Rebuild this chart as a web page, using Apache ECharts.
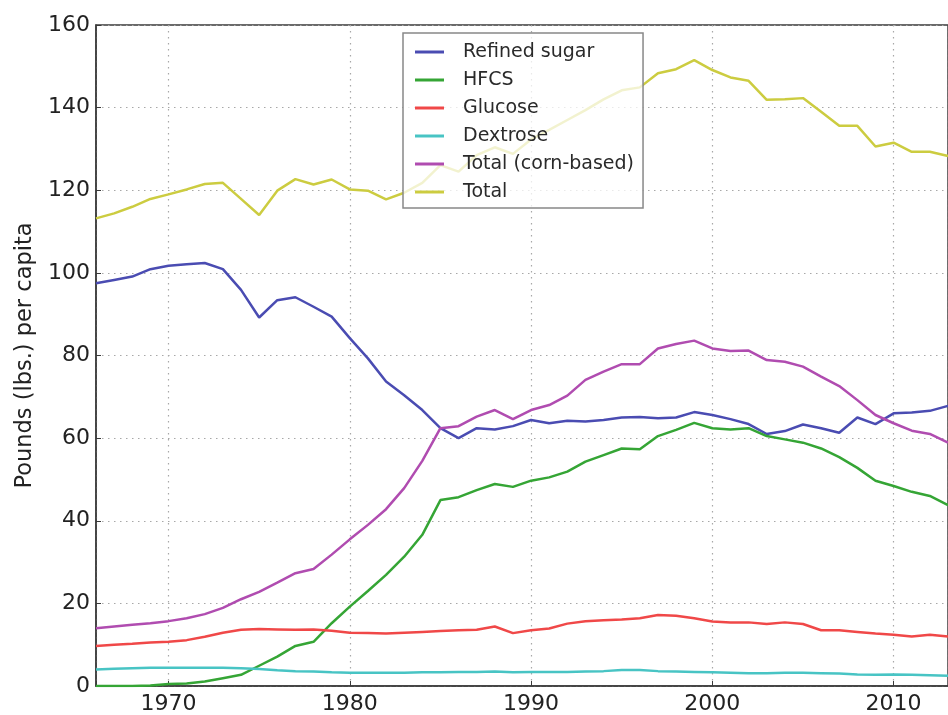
<!DOCTYPE html>
<html>
<head>
<meta charset="utf-8">
<script src="https://cdn.jsdelivr.net/npm/echarts@6/dist/echarts.min.js"></script>
<style>
html,body{margin:0;padding:0;background:#fff;overflow:hidden;}
#chart{width:951px;height:715px;}
</style>
</head>
<body>
<div id="chart"></div>
<script>
const years = [];
for (let y = 1966; y <= 2013; y++) years.push(y);

const refinedSugar = [97.5,98.3,99.1,100.9,101.7,102.1,102.4,100.9,95.9,89.2,93.4,94.1,91.8,89.4,84.2,79.3,73.7,70.4,66.8,62.4,60.0,62.4,62.1,62.9,64.4,63.6,64.2,64.0,64.4,65.0,65.1,64.8,65.0,66.3,65.6,64.6,63.4,61.0,61.7,63.3,62.4,61.3,65.0,63.4,66.0,66.2,66.6,67.8];
const hfcs = [0.0,0.0,0.0,0.1,0.5,0.6,1.1,1.9,2.7,4.9,7.1,9.7,10.7,15.2,19.2,23.0,26.9,31.3,36.6,45.0,45.7,47.4,48.9,48.2,49.7,50.5,51.9,54.3,55.9,57.5,57.3,60.5,62.0,63.7,62.4,62.1,62.4,60.5,59.7,58.9,57.5,55.4,52.8,49.7,48.4,47.0,46.0,43.8];
const glucose = [9.7,10.0,10.2,10.5,10.7,11.1,11.9,12.9,13.6,13.8,13.7,13.6,13.7,13.4,12.9,12.8,12.7,12.9,13.1,13.3,13.5,13.6,14.4,12.8,13.5,13.9,15.1,15.7,15.9,16.1,16.4,17.2,17.0,16.4,15.6,15.4,15.4,15.0,15.4,15.0,13.5,13.5,13.1,12.7,12.4,12.0,12.4,12.0];
const dextrose = [4.0,4.2,4.3,4.4,4.4,4.4,4.4,4.4,4.3,4.1,3.8,3.6,3.5,3.3,3.2,3.2,3.2,3.2,3.3,3.3,3.4,3.4,3.5,3.3,3.4,3.4,3.4,3.5,3.6,3.9,3.9,3.6,3.5,3.4,3.3,3.2,3.1,3.1,3.2,3.2,3.1,3.0,2.8,2.7,2.8,2.7,2.6,2.5];
const totalCorn = [14.0,14.4,14.8,15.2,15.7,16.4,17.4,18.9,21.0,22.8,25.0,27.3,28.3,31.8,35.5,39.0,42.8,47.9,54.5,62.4,62.9,65.2,66.8,64.6,66.8,68.0,70.3,74.1,76.1,77.9,77.9,81.7,82.8,83.6,81.7,81.1,81.2,78.9,78.5,77.3,74.9,72.6,69.2,65.6,63.6,61.8,61.0,58.9];
const total = [113.2,114.4,116.0,117.9,119.0,120.2,121.5,121.8,117.9,114.0,119.9,122.7,121.4,122.6,120.2,119.9,117.8,119.4,121.8,126.1,124.5,128.5,130.4,128.8,132.3,134.6,137.0,139.4,142.0,144.2,144.9,148.3,149.3,151.5,149.1,147.3,146.5,141.9,142.0,142.3,139.0,135.6,135.6,130.6,131.5,129.3,129.3,128.3];

const seriesNames = ['Refined sugar','HFCS','Glucose','Dextrose','Total (corn-based)','Total'];
const seriesData = [refinedSugar, hfcs, glucose, dextrose, totalCorn, total];
const colors = ['#4a4cb2','#35a535','#f04848','#48c4c4','#b04cb0','#cccc40'];

const chart = echarts.init(document.getElementById('chart'), null, {renderer:'canvas'});
const font = 'DejaVu Sans';
chart.setOption({
  animation:false,
  backgroundColor:'#fff',
  color: colors,
  textStyle:{fontFamily:font},
  grid:{left:96, top:25, right:0, bottom:29, show:true, borderColor:'#3a3a3a', borderWidth:1.5, backgroundColor:'transparent'},
  legend:{
    orient:'vertical', left:403, top:33,
    padding:[9,9,6,12],
    itemGap:8,
    itemWidth:29, itemHeight:3,
    icon:'rect',
    backgroundColor:'rgba(255,255,255,0.75)',
    borderColor:'#888', borderWidth:1.5,
    textStyle:{fontSize:19, color:'#2a2a2a', fontFamily:font, padding:[0,0,0,14], lineHeight:20},
    data: seriesNames
  },
  xAxis:{
    type:'value', min:1966, max:2013, splitNumber:5,
    axisLine:{show:true, lineStyle:{color:'#3a3a3a', width:1.5}},
    axisTick:{show:true, inside:true, length:5, lineStyle:{color:'#3a3a3a'}},
    axisLabel:{fontSize:22, color:'#222', margin:7, fontFamily:font,
      formatter:v => (v % 10 === 0 ? String(v) : ''), showMinLabel:true, showMaxLabel:true},
    splitLine:{show:true, lineStyle:{color:'#a8a8a8', width:1.2, type:[1.5,4.5]}}
  },
  yAxis:{
    type:'value', min:0, max:160, interval:20,
    name:'Pounds (lbs.) per capita', nameLocation:'middle', nameGap:58,
    nameTextStyle:{fontSize:22.5, color:'#222', fontFamily:font},
    axisLine:{show:true, lineStyle:{color:'#3a3a3a', width:1.5}},
    axisTick:{show:true, inside:true, length:5, lineStyle:{color:'#3a3a3a'}},
    axisLabel:{fontSize:22, color:'#222', margin:6, fontFamily:font},
    splitLine:{show:true, lineStyle:{color:'#a8a8a8', width:1.2, type:[1.5,4.5]}}
  },
  series: seriesNames.map((name,i)=>({
    name, type:'line', showSymbol:false, symbol:'none',
    data: years.map((y,j)=>[y, seriesData[i][j]]),
    lineStyle:{width:2.5, color:colors[i]},
    itemStyle:{color:colors[i]},
    z: 2
  }))
});
</script>
</body>
</html>
